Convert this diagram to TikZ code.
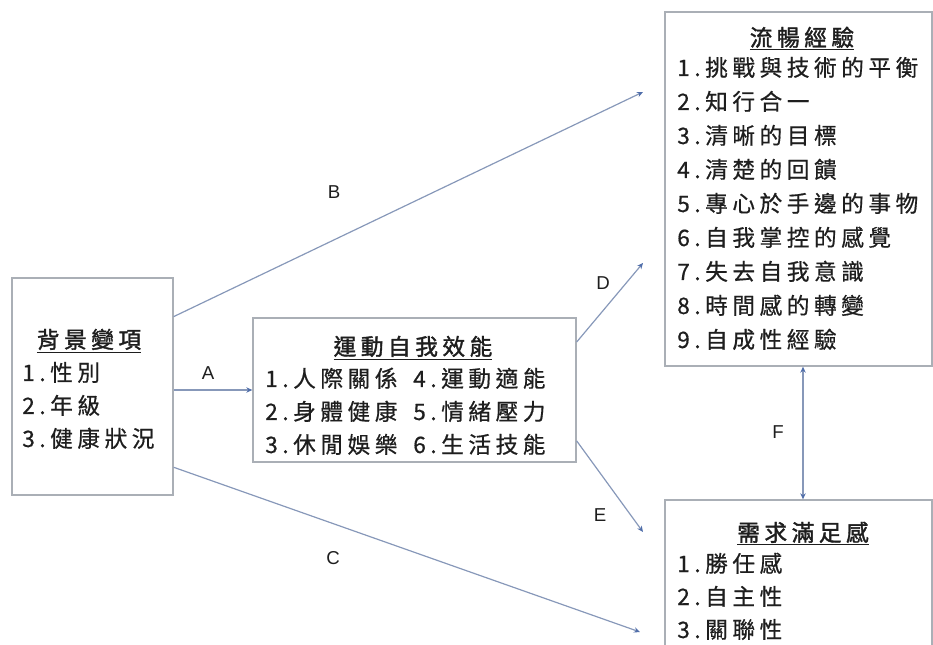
\documentclass[tikz,border=0pt]{standalone}
\usepackage{fontspec}
\newfontfamily\cjkfont[LetterSpace=20, FakeBold=0.6]{Noto Sans CJK TC}
\newfontfamily\cjkhead[LetterSpace=20, FakeBold=1.6]{Noto Sans CJK TC}
\newfontfamily\lblfont{Liberation Sans}
\usetikzlibrary{arrows.meta,fit,calc}
\definecolor{boxgray}{RGB}{170,175,182}
\definecolor{linkgray}{RGB}{135,152,185}
\definecolor{tipblue}{RGB}{80,110,170}
\definecolor{inkgray}{RGB}{30,30,30}

\begin{document}
\begin{tikzpicture}[
    x			= 0.75pt,
    y			= -0.75pt,
    bluetip/.tip	= {Stealth[length=4.5pt, width=4pt, color=tipblue]},
    box/.style		= {draw=boxgray, line width=1pt, inner sep=0pt},
    item/.style		= {font=\cjkfont\fontsize{17}{20}\selectfont, text=inkgray, inner sep=0pt, anchor=base west},
    head/.style		= {item, font=\cjkhead\fontsize{17}{20}\selectfont, anchor=base},
    link/.style		= {draw=linkgray, line width=0.9pt, -bluetip},
    twoway/.style	= {draw=linkgray, line width=0.9pt, bluetip-bluetip},
    lbl/.style		= {font=\lblfont\fontsize{14}{16}\selectfont, text=inkgray, inner sep=0pt}
  ]
\useasboundingbox (0,0) rectangle (933,645);
% boxes
\node[box, fit={(12,278) (173,495)}] (bg) {};
\node[box, fit={(253,318) (576,462)}] (se) {};
\node[box, fit={(665,12) (932,366)}] (flow) {};
\node[box, fit={(665,500) (932,690)}] (need) {};
% background variables
\node[head] (bgT) at (89,348) {\underline{背景變項}};
\foreach \t [count=\i] in {性別,年級,健康狀況}
  \node[item] (bg\i) at (22,348+33*\i) {\i.\t};
% sport self-efficacy
\node[head] (seT) at (413,355) {\underline{運動自我效能}};
\foreach \a/\b [count=\i] in {人際關係/運動適能,身體健康/情緒壓力,休閒娛樂/生活技能} {
  \pgfmathtruncatemacro\j{\i+3}
  \node[item] (se\i) at (265,354+33*\i) {\i.\a};
  \node[item] (se\j) at (413,354+33*\i) {\j.\b};
}
% flow experience
\node[head] (flowT) at (802,46) {\underline{流暢經驗}};
\foreach \t [count=\i] in {挑戰與技術的平衡,知行合一,清晰的目標,清楚的回饋,專心於手邊的事物,自我掌控的感覺,失去自我意識,時間感的轉變,自成性經驗}
  \node[item] (flow\i) at (677,42+34*\i) {\i.\t};
% need satisfaction
\node[head] (needT) at (803,541) {\underline{需求滿足感}};
\foreach \t [count=\i] in {勝任感,自主性,關聯性}
  \node[item] (need\i) at (677,539+33*\i) {\i.\t};
% free ends
\coordinate (bEnd) at (643,92);
\coordinate (cEnd) at (640,632);
\coordinate (dEnd) at (643,263);
\coordinate (eEnd) at (643,532);
\coordinate (fx) at (803,0);
% paths
\draw[link] (bg.east |- se.west) -- (se.west);
\draw[link] ($(bg.north east)!0.18!(bg.south east)$) -- (bEnd);
\draw[link] ($(bg.north east)!0.87!(bg.south east)$) -- (cEnd);
\draw[link] ($(se.north east)!0.17!(se.south east)$) -- (dEnd);
\draw[link] ($(se.north east)!0.85!(se.south east)$) -- (eEnd);
\draw[twoway] (flow.south -| fx) -- (need.north -| fx);
% path labels
\node[lbl] (labA) at (208,373) {A};
\node[lbl] (labB) at (334,192) {B};
\node[lbl] (labC) at (333,558) {C};
\node[lbl] (labD) at (603,283) {D};
\node[lbl] (labE) at (600,515) {E};
\node[lbl] (labF) at (778,432) {F};
%
\end{tikzpicture}
\end{document}
